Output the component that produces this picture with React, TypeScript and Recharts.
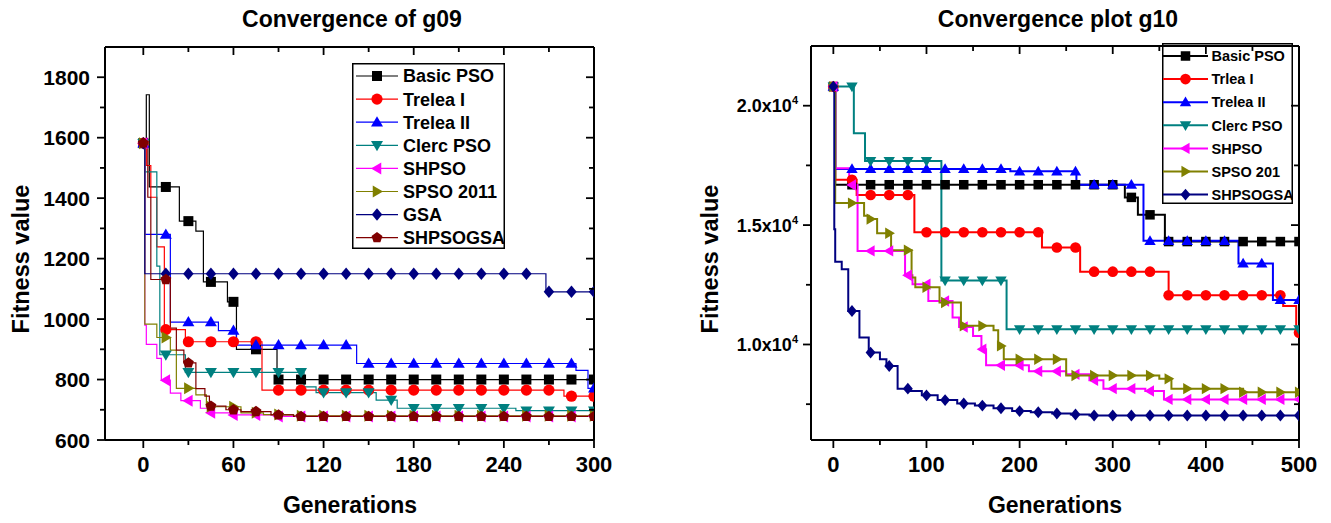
import React from "react";
import { ComposedChart, Legend, Line, XAxis, YAxis } from "recharts";

type Step = [number, number];
type Shape = "square" | "circle" | "up" | "down" | "left" | "right" | "diamond" | "pentagon";

const FONT = '"Liberation Sans", Arial, Helvetica, sans-serif';

// ---- g09 (left chart) ----
const g09MarkerGens = [0, 15, 30, 45, 60, 75, 90, 105, 120, 135, 150, 165, 180, 195, 210, 225, 240, 255, 270, 285, 300];
const g09XTicks = [0, 30, 60, 90, 120, 150, 180, 210, 240, 270, 300];
const g09XLabels = [0, 60, 120, 180, 240, 300];
const g09YTicks = [600, 700, 800, 900, 1000, 1100, 1200, 1300, 1400, 1500, 1600, 1700, 1800];
const g09YLabels = [600, 800, 1000, 1200, 1400, 1600, 1800];

const basicPso09: Step[] = [[0, 1582], [2, 1742], [4, 1437], [24, 1324], [35, 1291], [40, 1123], [56, 1057], [62, 900], [89, 800]];
const treleaI09: Step[] = [[0, 1582], [2, 1508], [5, 1403], [9, 1239], [14, 965], [28, 925], [79, 765], [280, 745]];
const treleaII09: Step[] = [[0, 1582], [1, 1280], [18, 990], [50, 962], [62, 914], [142, 853], [288, 830], [296, 771]];
const clerc09: Step[] = [[0, 1582], [1, 1487], [9, 1175], [11, 882], [28, 824], [107, 776], [115, 757], [155, 732], [169, 705], [248, 697]];
const shpso09: Step[] = [[0, 1582], [1, 980], [2, 916], [9, 870], [12, 798], [18, 755], [25, 730], [38, 705], [43, 690], [60, 683], [90, 678]];
const spso09: Step[] = [[0, 1582], [1, 983], [9, 939], [18, 897], [22, 771], [35, 749], [42, 710], [65, 690], [80, 684], [100, 680]];
const gsa09: Step[] = [[0, 1582], [1, 1150], [268, 1090]];
const shpsogsa09: Step[] = [[0, 1582], [3, 1403], [5, 1131], [18, 970], [22, 897], [27, 855], [35, 770], [41, 745], [44, 712], [55, 700], [65, 694], [85, 683], [100, 678]];

// ---- g10 (right chart) ----
const g10MarkerGens = [0, 20, 40, 60, 80, 100, 120, 140, 160, 180, 200, 220, 240, 260, 280, 300, 320, 340, 360, 380, 400, 420, 440, 460, 480, 500];
const g10XTicks = [0, 50, 100, 150, 200, 250, 300, 350, 400, 450, 500];
const g10XLabels = [0, 100, 200, 300, 400, 500];
const g10YTicks = [7500, 10000, 12500, 15000, 17500, 20000];
const g10YLabels = [10000, 15000, 20000];

const basicPso10: Step[] = [[0, 20800], [2, 16690], [313, 16160], [327, 15430], [356, 14310]];
const treleaI10: Step[] = [[0, 20800], [2, 16900], [25, 16260], [87, 14700], [224, 14060], [265, 13050], [360, 12060], [483, 11610], [497, 10490]];
const treleaII10: Step[] = [[0, 20800], [2, 17350], [190, 17250], [261, 16690], [333, 14340], [435, 13390], [472, 11860]];
const clerc10: Step[] = [[0, 20800], [22, 18850], [34, 17680], [116, 12680], [186, 10640]];
const shpso10: Step[] = [[0, 20800], [2, 17380], [17, 16680], [26, 13920], [77, 12900], [85, 12520], [102, 11820], [128, 11130], [135, 10730], [150, 10360], [159, 9800], [164, 9130], [210, 8880], [250, 8750], [275, 8500], [290, 8150], [335, 8050], [355, 7700]];
const spso10: Step[] = [[0, 20800], [2, 15920], [33, 15390], [38, 15250], [47, 14660], [62, 13950], [84, 12800], [88, 12400], [114, 11760], [137, 10780], [172, 10600], [177, 9940], [183, 9380], [250, 8700], [350, 8560], [363, 8150], [440, 8000]];
const shpsogsa10: Step[] = [[0, 20800], [1, 14830], [2, 13460], [9, 13150], [16, 11400], [28, 10290], [38, 9660], [50, 9380], [57, 9100], [69, 8150], [83, 8050], [95, 7870], [112, 7670], [133, 7530], [152, 7440], [172, 7330], [192, 7210], [212, 7160], [235, 7110], [255, 7066], [275, 7025]];

interface Series {
  name: string;
  color: string;
  shape: Shape;
  steps: Step[];
}

const g09Series: Series[] = [
  { name: "Basic PSO", color: "#000000", shape: "square", steps: basicPso09 },
  { name: "Trelea I", color: "#ff0000", shape: "circle", steps: treleaI09 },
  { name: "Trelea II", color: "#0000ff", shape: "up", steps: treleaII09 },
  { name: "Clerc PSO", color: "#008080", shape: "down", steps: clerc09 },
  { name: "SHPSO", color: "#ff00ff", shape: "left", steps: shpso09 },
  { name: "SPSO 2011", color: "#808000", shape: "right", steps: spso09 },
  { name: "GSA", color: "#000080", shape: "diamond", steps: gsa09 },
  { name: "SHPSOGSA", color: "#800000", shape: "pentagon", steps: shpsogsa09 },
];

const g10Series: Series[] = [
  { name: "Basic PSO", color: "#000000", shape: "square", steps: basicPso10 },
  { name: "Trlea I", color: "#ff0000", shape: "circle", steps: treleaI10 },
  { name: "Trelea II", color: "#0000ff", shape: "up", steps: treleaII10 },
  { name: "Clerc PSO", color: "#008080", shape: "down", steps: clerc10 },
  { name: "SHPSO", color: "#ff00ff", shape: "left", steps: shpso10 },
  { name: "SPSO 201", color: "#808000", shape: "right", steps: spso10 },
  { name: "SHPSOGSA", color: "#000080", shape: "diamond", steps: shpsogsa10 },
];

// step line points + marker points sitting on the steps
function buildLine(steps: Step[], markers: number[], end: number) {
  const valueAt = (g: number) => {
    let v = steps[0][1];
    for (const [x, y] of steps) if (x <= g) v = y;
    return v;
  };
  const pts = steps.map(([x, y]) => ({ x, y, m: false }));
  markers.forEach((g) => pts.push({ x: g, y: valueAt(g), m: true }));
  pts.push({ x: end, y: valueAt(end), m: false });
  return pts.sort((a, b) => a.x - b.x);
}

function Marker({ shape, cx, cy, size, color }: { shape: Shape; cx: number; cy: number; size: number; color: string }) {
  const h = size / 2;
  const poly = (pts: number[][]) => <polygon points={pts.map((p) => p.join(",")).join(" ")} fill={color} />;
  switch (shape) {
    case "square":
      return <rect x={cx - h} y={cy - h} width={size} height={size} fill={color} />;
    case "circle":
      return <circle cx={cx} cy={cy} r={h * 1.12} fill={color} />;
    case "up":
      return poly([[cx, cy - h * 1.2], [cx + h * 1.2, cy + h * 0.85], [cx - h * 1.2, cy + h * 0.85]]);
    case "down":
      return poly([[cx, cy + h * 1.2], [cx + h * 1.2, cy - h * 0.85], [cx - h * 1.2, cy - h * 0.85]]);
    case "left":
      return poly([[cx - h * 1.2, cy], [cx + h * 0.85, cy - h * 1.2], [cx + h * 0.85, cy + h * 1.2]]);
    case "right":
      return poly([[cx + h * 1.2, cy], [cx - h * 0.85, cy - h * 1.2], [cx - h * 0.85, cy + h * 1.2]]);
    case "diamond":
      return poly([[cx, cy - h * 1.25], [cx + h * 1.05, cy], [cx, cy + h * 1.25], [cx - h * 1.05, cy]]);
    default: {
      const r = h * 1.15;
      const pts = [0, 1, 2, 3, 4].map((i) => {
        const a = -Math.PI / 2 + (i * 2 * Math.PI) / 5;
        return [cx + r * Math.cos(a), cy + r * Math.sin(a)];
      });
      return poly(pts);
    }
  }
}

interface TickOpts {
  side: "bottom" | "top" | "left" | "right";
  labelled: number[];
  major: number;
  minor: number;
  label?: (x: number, y: number, v: number) => React.ReactNode;
}

function makeTick({ side, labelled, major, minor, label }: TickOpts) {
  return (props: any) => {
    const { x, y, payload } = props;
    const v = payload.value as number;
    const isMajor = labelled.includes(v);
    const len = isMajor ? major : minor;
    const horiz = side === "bottom" || side === "top";
    return (
      <g key={`${side}-${v}`}>
        {horiz ? (
          <line x1={x} x2={x} y1={y} y2={y + len} stroke="#000" strokeWidth={1.8} />
        ) : (
          <line x1={x - len} x2={x} y1={y} y2={y} stroke="#000" strokeWidth={1.8} />
        )}
        {isMajor && label ? label(x, y, v) : null}
      </g>
    );
  };
}

interface LegendBoxProps {
  series: Series[];
  width: number;
  height: number;
  firstRow: number;
  rowH: number;
  lineX1: number;
  lineX2: number;
  markX: number;
  textX: number;
  fontSize: number;
  lineWidth: number;
  markerSize: number;
}

function LegendBox(p: LegendBoxProps) {
  return (
    <svg width={p.width} height={p.height} style={{ display: "block" }}>
      <rect x={0.75} y={0.75} width={p.width - 1.5} height={p.height - 1.5} fill="none" stroke="#000" strokeWidth={1.5} />
      {p.series.map((s, i) => {
        const cy = p.firstRow + p.rowH * i;
        return (
          <g key={s.name}>
            <line x1={p.lineX1} x2={p.lineX2} y1={cy} y2={cy} stroke={s.color} strokeWidth={p.lineWidth} />
            <Marker shape={s.shape} cx={p.markX} cy={cy} size={p.markerSize} color={s.color} />
            <text x={p.textX} y={cy} dy="0.36em" fontSize={p.fontSize} fontWeight={700} fontFamily={FONT} fill="#000">
              {s.name}
            </text>
          </g>
        );
      })}
    </svg>
  );
}

interface ChartProps {
  series: Series[];
  markers: number[];
  width: number;
  height: number;
  margin: { top: number; right: number; bottom: number; left: number };
  xDomain: [number, number];
  yDomain: [number, number];
  xTicks: number[];
  xLabels: number[];
  yTicks: number[];
  yLabels: number[];
  yLabel: (x: number, y: number, v: number) => React.ReactNode;
  lineWidth: number;
  markerSize: number;
  legend: Omit<LegendBoxProps, "series" | "lineWidth" | "markerSize"> & { left: number; top: number };
}

function ConvergenceChart(c: ChartProps) {
  const end = c.xDomain[1];
  const xLabel = (x: number, y: number, v: number) => (
    <text x={x} y={y + 32} textAnchor="middle" fontSize={22} fontWeight={700} fontFamily={FONT} fill="#000">
      {v}
    </text>
  );
  const axisLine = { stroke: "#000", strokeWidth: 2 };
  const { left, top, ...legendProps } = c.legend;
  // axes are 1px thick so they render; margins are reduced by that pixel
  const m = { top: c.margin.top - 1, right: c.margin.right - 1, bottom: c.margin.bottom - 1, left: c.margin.left - 1 };
  return (
    <ComposedChart width={c.width} height={c.height} margin={m}>
      <XAxis xAxisId="b" type="number" dataKey="x" domain={c.xDomain} ticks={c.xTicks} interval={0} height={1}
        tickSize={0} tickMargin={0} tickLine={false} axisLine={axisLine} allowDataOverflow
        tick={makeTick({ side: "bottom", labelled: c.xLabels, major: 8, minor: 5, label: xLabel })} />
      <XAxis xAxisId="t" orientation="top" type="number" dataKey="x" domain={c.xDomain} ticks={c.xTicks} interval={0} height={1}
        tickSize={0} tickMargin={0} tickLine={false} axisLine={axisLine} allowDataOverflow
        tick={makeTick({ side: "top", labelled: c.xLabels, major: 8, minor: 5 })} />
      <YAxis yAxisId="l" type="number" domain={c.yDomain} ticks={c.yTicks} interval={0} width={1}
        tickSize={0} tickMargin={0} tickLine={false} axisLine={axisLine} allowDataOverflow
        tick={makeTick({ side: "left", labelled: c.yLabels, major: 8, minor: 5, label: c.yLabel })} />
      <YAxis yAxisId="r" orientation="right" type="number" domain={c.yDomain} ticks={c.yTicks} interval={0} width={1}
        tickSize={0} tickMargin={0} tickLine={false} axisLine={axisLine} allowDataOverflow
        tick={makeTick({ side: "right", labelled: c.yLabels, major: 8, minor: 5 })} />
      {c.series.map((s) => (
        <Line
          key={s.name}
          xAxisId="b"
          yAxisId="l"
          data={buildLine(s.steps, c.markers, end)}
          dataKey="y"
          name={s.name}
          type="stepAfter"
          stroke={s.color}
          strokeWidth={c.lineWidth}
          activeDot={false}
          isAnimationActive={false}
          dot={(p: any) =>
            p.payload && p.payload.m ? (
              <Marker key={`${s.name}-${p.index}`} shape={s.shape} cx={p.cx} cy={p.cy} size={c.markerSize} color={s.color} />
            ) : (
              <g key={`${s.name}-${p.index}`} />
            )
          }
        />
      ))}
      <Legend
        layout="vertical"
        align="center"
        verticalAlign="middle"
        wrapperStyle={{ left, top, width: legendProps.width, height: legendProps.height }}
        content={() => <LegendBox series={c.series} lineWidth={c.lineWidth} markerSize={c.markerSize} {...legendProps} />}
      />
    </ComposedChart>
  );
}

const g09YLabel = (x: number, y: number, v: number) => (
  <text x={x - 15} y={y + 7.5} textAnchor="end" fontSize={21} fontWeight={700} fontFamily={FONT} fill="#000">
    {v}
  </text>
);

const g10YLabel = (x: number, y: number, v: number) => (
  <text x={x - 13} y={y + 6.5} textAnchor="end" fontSize={18} fontWeight={700} fontFamily={FONT} fill="#000">
    {(v / 10000).toFixed(1)}x10
    <tspan dy={-8} fontSize={11}>4</tspan>
  </text>
);

const textStyle = { fontFamily: FONT, fontWeight: 700, fill: "#000" } as const;

export default function App() {
  return (
    <div style={{ position: "absolute", left: 0, top: 0, width: 1331, height: 523, background: "#fff", overflow: "hidden" }}>
      <div style={{ position: "absolute", left: 0, top: 0 }}>
        <ConvergenceChart
          series={g09Series}
          markers={g09MarkerGens}
          width={660}
          height={523}
          margin={{ top: 47, right: 66, bottom: 83, left: 105 }}
          xDomain={[-25.5, 300]}
          yDomain={[600, 1900]}
          xTicks={g09XTicks}
          xLabels={g09XLabels}
          yTicks={g09YTicks}
          yLabels={g09YLabels}
          yLabel={g09YLabel}
          lineWidth={1.2}
          markerSize={10}
          legend={{ left: 352, top: 63, width: 153, height: 186, firstRow: 13, rowH: 23.1, lineX1: 4, lineX2: 46, markX: 25, textX: 51, fontSize: 18 }}
        />
      </div>
      <div style={{ position: "absolute", left: 700, top: 0 }}>
        <ConvergenceChart
          series={g10Series}
          markers={g10MarkerGens}
          width={631}
          height={523}
          margin={{ top: 46, right: 32, bottom: 83, left: 111 }}
          xDomain={[-24, 500]}
          yDomain={[6000, 22500]}
          xTicks={g10XTicks}
          xLabels={g10XLabels}
          yTicks={g10YTicks}
          yLabels={g10YLabels}
          yLabel={g10YLabel}
          lineWidth={2}
          markerSize={9.5}
          legend={{ left: 462, top: 43, width: 131, height: 161, firstRow: 13, rowH: 23.1, lineX1: 1, lineX2: 46, markX: 23.5, textX: 49.5, fontSize: 14.5 }}
        />
      </div>
      <svg width={1331} height={523} style={{ position: "absolute", left: 0, top: 0, pointerEvents: "none" }}>
        <text x={352} y={27} textAnchor="middle" fontSize={23} {...textStyle}>Convergence of g09</text>
        <text x={1058} y={27} textAnchor="middle" fontSize={23} {...textStyle}>Convergence plot g10</text>
        <text x={350} y={513} textAnchor="middle" fontSize={23} {...textStyle}>Generations</text>
        <text x={1055} y={513} textAnchor="middle" fontSize={23} {...textStyle}>Generations</text>
        <text x={29} y={259} textAnchor="middle" fontSize={23.5} transform="rotate(-90 29 259)" {...textStyle}>Fitness value</text>
        <text x={718} y={259} textAnchor="middle" fontSize={23.5} transform="rotate(-90 718 259)" {...textStyle}>Fitness value</text>
      </svg>
    </div>
  );
}
